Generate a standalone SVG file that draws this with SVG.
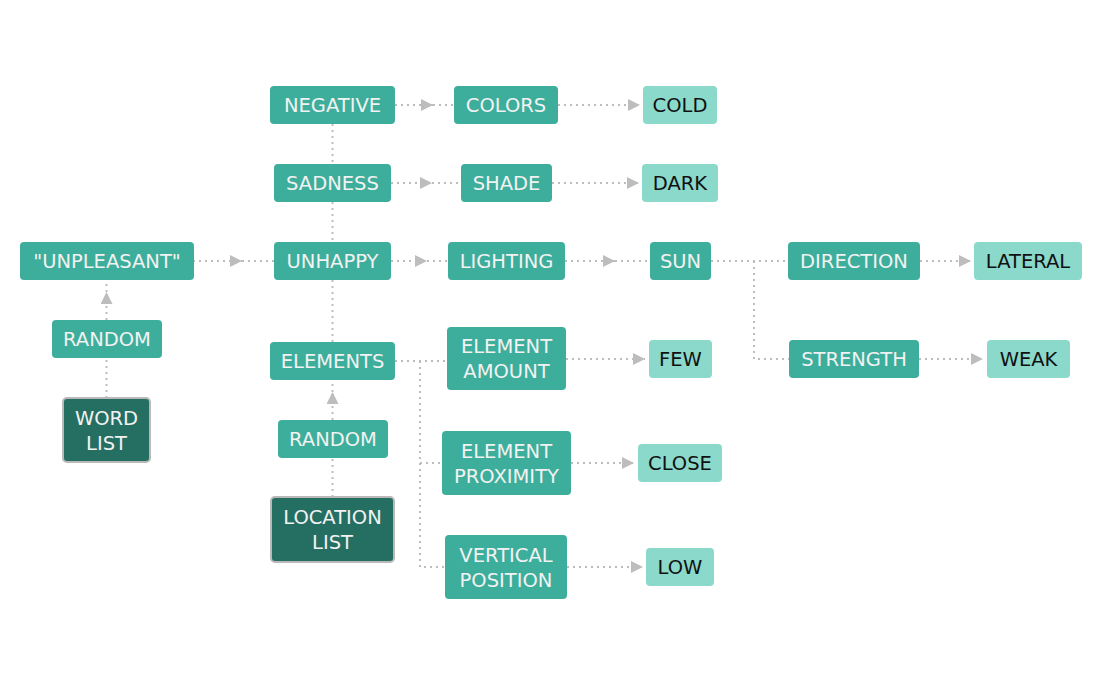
<svg xmlns="http://www.w3.org/2000/svg" width="1102" height="685" viewBox="0 0 1102 685">
<style>
.n rect{fill:#3dae9b}
.n text{fill:#f2f2f2}
.l rect{fill:#8ad9cb}
.l text{fill:#111}
.d rect{fill:#256f62;stroke:#b9b9b9;stroke-width:2}
.d text{fill:#f2f2f2}
text{font-family:"DejaVu Sans",Verdana,sans-serif;font-size:19.5px;text-anchor:middle}
.c path{fill:none;stroke:#bdbdbd;stroke-width:2;stroke-dasharray:2 4}
</style>
<defs>
<marker id="ah" viewBox="0 0 12 12" refX="12" refY="6" markerWidth="12" markerHeight="12" markerUnits="userSpaceOnUse" orient="auto">
<path d="M0,0 L12,6 L0,12 z" fill="#bdbdbd"/>
</marker>
</defs>
<rect width="1102" height="685" fill="#fff"/>
<g id="connectors" class="c">
<path d="M193,261 H242" marker-end="url(#ah)"/><path d="M242,261 H274"/>
<path d="M391,261 H427" marker-end="url(#ah)"/><path d="M427,261 H448"/>
<path d="M565,261 H615" marker-end="url(#ah)"/><path d="M615,261 H650"/>
<path d="M711,261 H788"/><path d="M754,261 V359 H789"/>
<path d="M920,261 H971" marker-end="url(#ah)"/>
<path d="M919,359 H983" marker-end="url(#ah)"/>
<path d="M395,105 H433" marker-end="url(#ah)"/><path d="M433,105 H454"/>
<path d="M558,105 H640" marker-end="url(#ah)"/>
<path d="M391,183 H432" marker-end="url(#ah)"/><path d="M432,183 H461"/>
<path d="M552,183 H639" marker-end="url(#ah)"/>
<path d="M332.5,124 V164"/><path d="M332.5,202 V242"/><path d="M332.5,280 V342"/>
<path d="M395,361 H447"/><path d="M420,361 V567 H445"/><path d="M420,463 H442"/>
<path d="M566,359 H645" marker-end="url(#ah)"/>
<path d="M571,463 H634" marker-end="url(#ah)"/>
<path d="M567,567 H643" marker-end="url(#ah)"/>
<path d="M106.5,398 V358"/>
<path d="M106.5,320 V292" marker-end="url(#ah)"/><path d="M106.5,292 V280"/>
<path d="M332.5,497 V458"/>
<path d="M332.5,420 V392" marker-end="url(#ah)"/><path d="M332.5,392 V380"/>
</g>
<g id="unpleasant" class="n"><rect x="20" y="242" width="174" height="38" rx="4"/><text x="107" y="268">"UNPLEASANT"</text></g>
<g id="unhappy" class="n"><rect x="274" y="242" width="117" height="38" rx="4"/><text x="332.5" y="268">UNHAPPY</text></g>
<g id="random1" class="n"><rect x="52" y="320" width="110" height="38" rx="4"/><text x="107" y="346">RANDOM</text></g>
<g id="wordlist" class="d"><rect x="63" y="398" width="87" height="64" rx="4"/><text x="106.5" y="424.5">WORD</text><text x="106.5" y="449.5">LIST</text></g>
<g id="negative" class="n"><rect x="270" y="86" width="125" height="38" rx="4"/><text x="332.5" y="112">NEGATIVE</text></g>
<g id="colors" class="n"><rect x="454" y="86" width="104" height="38" rx="4"/><text x="506" y="112">COLORS</text></g>
<g id="cold" class="l"><rect x="643" y="86" width="74" height="38" rx="4"/><text x="680" y="112">COLD</text></g>
<g id="sadness" class="n"><rect x="274" y="164" width="117" height="38" rx="4"/><text x="332.5" y="190">SADNESS</text></g>
<g id="shade" class="n"><rect x="461" y="164" width="91" height="38" rx="4"/><text x="506.5" y="190">SHADE</text></g>
<g id="dark" class="l"><rect x="642" y="164" width="76" height="38" rx="4"/><text x="680" y="190">DARK</text></g>
<g id="lighting" class="n"><rect x="448" y="242" width="117" height="38" rx="4"/><text x="506.5" y="268">LIGHTING</text></g>
<g id="sun" class="n"><rect x="650" y="242" width="61" height="38" rx="4"/><text x="680.5" y="268">SUN</text></g>
<g id="direction" class="n"><rect x="788" y="242" width="132" height="38" rx="4"/><text x="854" y="268">DIRECTION</text></g>
<g id="lateral" class="l"><rect x="974" y="242" width="108" height="38" rx="4"/><text x="1028" y="268">LATERAL</text></g>
<g id="strength" class="n"><rect x="789" y="340" width="130" height="38" rx="4"/><text x="854" y="366">STRENGTH</text></g>
<g id="weak" class="l"><rect x="987" y="340" width="83" height="38" rx="4"/><text x="1028.5" y="366">WEAK</text></g>
<g id="elements" class="n"><rect x="270" y="342" width="125" height="38" rx="4"/><text x="332.5" y="368">ELEMENTS</text></g>
<g id="random2" class="n"><rect x="278" y="420" width="110" height="38" rx="4"/><text x="333" y="446">RANDOM</text></g>
<g id="locationlist" class="d"><rect x="271" y="497" width="123" height="65" rx="4"/><text x="332.5" y="524">LOCATION</text><text x="332.5" y="549">LIST</text></g>
<g id="elementamount" class="n"><rect x="447" y="327" width="119" height="63" rx="4"/><text x="506.5" y="353">ELEMENT</text><text x="506.5" y="378">AMOUNT</text></g>
<g id="few" class="l"><rect x="649" y="340" width="63" height="38" rx="4"/><text x="680.5" y="366">FEW</text></g>
<g id="elementproximity" class="n"><rect x="442" y="431" width="129" height="64" rx="4"/><text x="506.5" y="457.5">ELEMENT</text><text x="506.5" y="482.5">PROXIMITY</text></g>
<g id="close" class="l"><rect x="638" y="444" width="84" height="38" rx="4"/><text x="680" y="470">CLOSE</text></g>
<g id="verticalposition" class="n"><rect x="445" y="535" width="122" height="64" rx="4"/><text x="506" y="561.5">VERTICAL</text><text x="506" y="586.5">POSITION</text></g>
<g id="low" class="l"><rect x="646" y="548" width="68" height="38" rx="4"/><text x="680" y="574">LOW</text></g>
</svg>
